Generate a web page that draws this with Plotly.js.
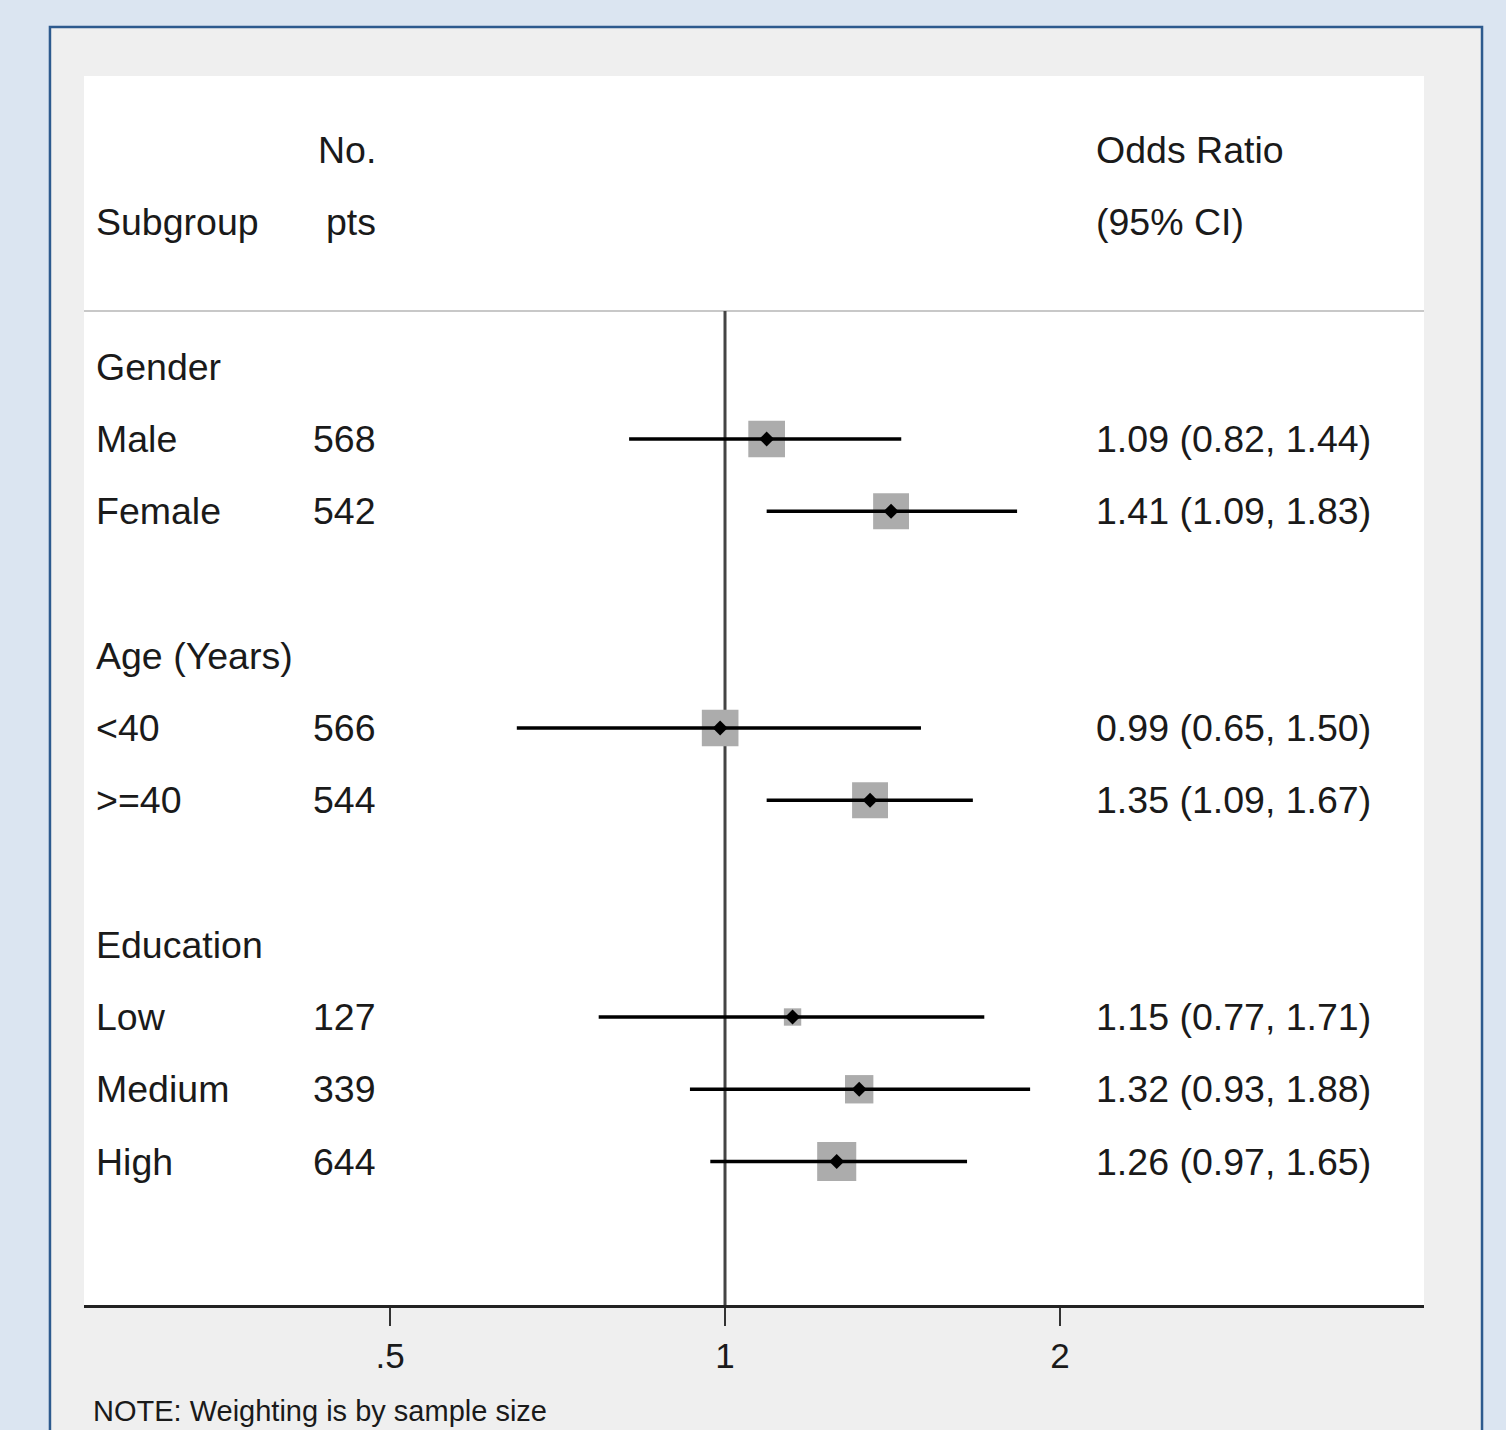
<!DOCTYPE html>
<html>
<head>
<meta charset="utf-8">
<script src="https://cdn.plot.ly/plotly-3.0.1.min.js"></script>
<style>
  html, body { margin: 0; padding: 0; background: #dbe5f1; }
  #chart { width: 1506px; height: 1430px; }
</style>
</head>
<body>
<div id="chart"></div>
<script>
// ---- data ----
var groups = ['Gender', 'Age (Years)', 'Education'];
var groupSizes = [2, 2, 3];
var subgroups = ['Male', 'Female', '<40', '>=40', 'Low', 'Medium', 'High'];
var nPts = [568, 542, 566, 544, 127, 339, 644];
var oddsRatio = [1.09, 1.41, 0.99, 1.35, 1.15, 1.32, 1.26];
var ciLow = [0.82, 1.09, 0.65, 1.09, 0.77, 0.93, 0.97];
var ciHigh = [1.44, 1.83, 1.50, 1.67, 1.71, 1.88, 1.65];
var tickVals = [0.5, 1, 2];
var tickText = ['.5', '1', '2'];
var noteText = 'NOTE: Weighting is by sample size';

// ---- row layout ----
var groupRows = [];
var itemRows = [];
var r = 3;
for (var g = 0; g < groups.length; g++) {
  groupRows.push(r);
  for (var j = 0; j < groupSizes[g]; j++) { itemRows.push(r + 1 + j); }
  r += groupSizes[g] + 2;
}

var FONT = 'Liberation Sans, Arial, Helvetica, sans-serif';
var TXT = '#1a1a1a';
var FS = 37.5;

var squares = {
  type: 'scatter', mode: 'markers', x: oddsRatio, y: itemRows,
  marker: { symbol: 'square', color: '#acacac', opacity: 1, line: { width: 0 },
            size: nPts.map(function (v) { return 1.54 * Math.sqrt(v); }) },
  hoverinfo: 'skip', showlegend: false
};
var points = {
  type: 'scatter', mode: 'markers', x: oddsRatio, y: itemRows,
  marker: { symbol: 'diamond', color: '#000', size: 11.5, opacity: 1, line: { width: 0 } },
  error_x: { type: 'data', symmetric: false,
             array: ciHigh.map(function (h, i) { return h - oddsRatio[i]; }),
             arrayminus: ciLow.map(function (l, i) { return oddsRatio[i] - l; }),
             thickness: 3.5, width: 0, color: '#000' },
  hoverinfo: 'skip', showlegend: false
};

var xLabel = 0.0075, xNum = 0.2195, xOR = 0.7537;
var ann = [];
function add(x, y, text, anchor, yref, size) {
  ann.push({ xref: 'paper', yref: yref || 'y', x: x, y: y, text: text,
             xanchor: anchor, yanchor: 'middle', showarrow: false,
             font: { family: FONT, size: size || FS, color: TXT } });
}
add(xNum, 0, 'No.', 'right');
add(xLabel, 1, 'Subgroup', 'left');
add(xNum, 1, 'pts', 'right');
add(xOR, 0, 'Odds Ratio', 'left');
add(xOR, 1, '(95% CI)', 'left');
for (g = 0; g < groups.length; g++) add(xLabel, groupRows[g], groups[g], 'left');
for (var i = 0; i < subgroups.length; i++) {
  add(xLabel, itemRows[i], subgroups[i], 'left');
  add(xNum, itemRows[i], String(nPts[i]), 'right');
  add(xOR, itemRows[i], oddsRatio[i].toFixed(2) + ' (' + ciLow[i].toFixed(2) + ', ' + ciHigh[i].toFixed(2) + ')', 'left');
}
add(0.0052, -0.0862, noteText, 'left', 'paper', 29);

var sepY = 0.8088;
var shapes = [
  { type: 'rect', xref: 'paper', yref: 'paper', x0: -0.0254, x1: 1.0433, y0: -0.2, y1: 1.0399,
    fillcolor: '#efefef', line: { color: '#2d5a8e', width: 2.5 }, layer: 'below' },
  { type: 'rect', xref: 'paper', yref: 'paper', x0: 0, x1: 1, y0: 0, y1: 1,
    fillcolor: '#ffffff', line: { width: 0 }, layer: 'below' },
  { type: 'line', xref: 'paper', yref: 'paper', x0: 0, x1: 1, y0: sepY, y1: sepY,
    line: { color: '#c8c8c8', width: 2 }, layer: 'below' },
  { type: 'line', xref: 'x', yref: 'paper', x0: 1, x1: 1, y0: 0, y1: sepY,
    line: { color: '#444444', width: 3 }, layer: 'below' }
];

var layout = {
  width: 1506, height: 1430,
  margin: { l: 84, r: 82, t: 76, b: 125, pad: 0 },
  paper_bgcolor: '#dbe5f1', plot_bgcolor: 'rgba(0,0,0,0)',
  font: { family: FONT, color: TXT },
  xaxis: { type: 'log', range: [-0.5760, 0.6281], autorange: false,
           showgrid: false, zeroline: false, showline: true, linecolor: '#222', linewidth: 2.5,
           ticks: 'outside', ticklen: 18, tickwidth: 2.5, tickcolor: '#333',
           tickvals: tickVals, ticktext: tickText,
           tickfont: { family: FONT, size: 35, color: TXT }, fixedrange: true },
  yaxis: { range: [15.986, -1.024], autorange: false, visible: false, fixedrange: true },
  shapes: shapes, annotations: ann, hovermode: false, showlegend: false
};

Plotly.newPlot('chart', [squares, points], layout, { displayModeBar: false, staticPlot: true });
</script>
</body>
</html>
